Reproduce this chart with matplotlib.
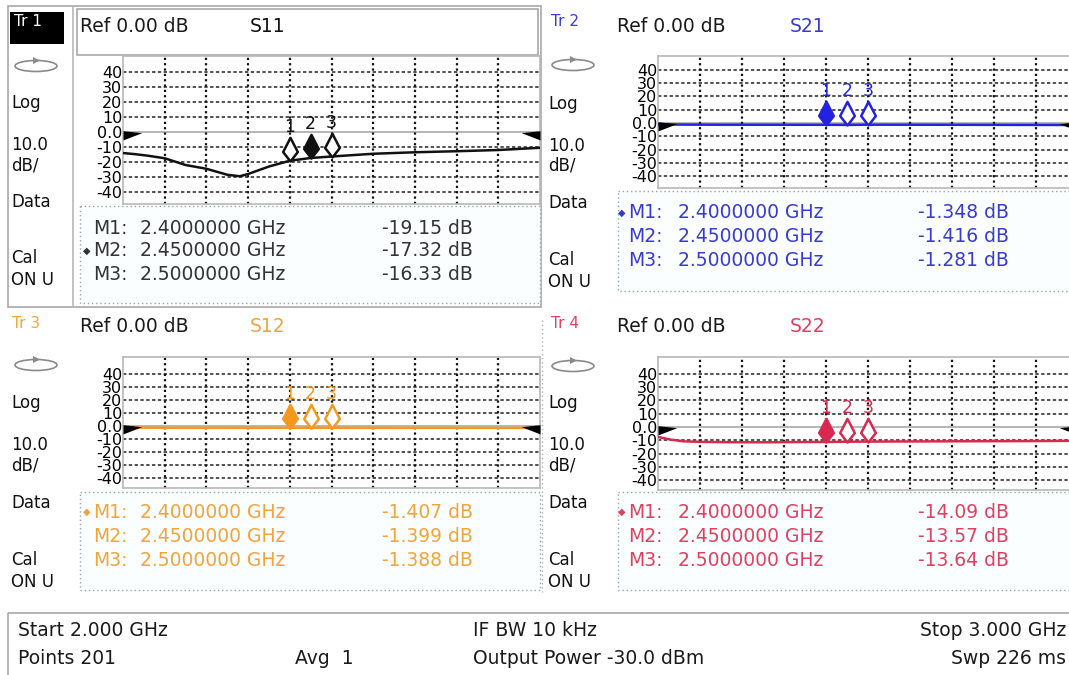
import matplotlib
matplotlib.use("Agg")
import matplotlib.pyplot as plt
from matplotlib.path import Path
from matplotlib.patches import Rectangle, Ellipse, Polygon

W, H = 1069, 675
plt.rcParams['font.family'] = ['DejaVu Sans']

# ---- data ----
trace_f = [2.00, 2.03, 2.06, 2.10, 2.15, 2.20, 2.25, 2.28, 2.30, 2.35,
           2.40, 2.45, 2.50, 2.60, 2.70, 2.80, 2.90, 3.00]
s11_db = [-14.0, -14.8, -15.8, -17.5, -22.0, -24.5, -28.5, -29.5, -28.0, -23.0,
          -19.15, -17.32, -16.33, -14.5, -13.5, -12.8, -12.0, -10.5]
s21_db = [-0.9, -1.1, -1.2, -1.25, -1.3, -1.3, -1.32, -1.33, -1.34, -1.35,
          -1.348, -1.416, -1.281, -1.3, -1.35, -1.4, -1.45, -1.5]
s12_db = [-1.0, -1.2, -1.3, -1.35, -1.38, -1.4, -1.4, -1.41, -1.41, -1.41,
          -1.407, -1.399, -1.388, -1.4, -1.42, -1.44, -1.46, -1.5]
s22_db = [-7.5, -9.5, -10.8, -11.2, -11.4, -11.5, -11.5, -11.5, -11.4, -11.3,
          -11.3, -11.1, -11.0, -10.9, -10.8, -10.7, -10.6, -10.4]

grid_f = [2.1, 2.2, 2.3, 2.4, 2.5, 2.6, 2.7, 2.8, 2.9]
db_ticks = [40, 30, 20, 10, 0, -10, -20, -30, -40]
db_labels = ['40', '30', '20', '10', '0.0', '-10', '-20', '-30', '-40']

marker_f = [2.40, 2.45, 2.50]
marker_names = ['M1:', 'M2:', 'M3:']
marker_freq_txt = ['2.4000000 GHz', '2.4500000 GHz', '2.5000000 GHz']
s11_read = ['-19.15 dB', '-17.32 dB', '-16.33 dB']
s21_read = ['-1.348 dB', '-1.416 dB', '-1.281 dB']
s12_read = ['-1.407 dB', '-1.399 dB', '-1.388 dB']
s22_read = ['-14.09 dB', '-13.57 dB', '-13.64 dB']

side_labels = ['Log', '10.0', 'dB/', 'Data', 'Cal', 'ON U']
footer_row1 = ['Start 2.000 GHz', 'IF BW 10 kHz', 'Stop 3.000 GHz']
footer_row2 = ['Points 201', 'Avg  1', 'Output Power -30.0 dBm', 'Swp 226 ms']

panels = [
    dict(tr='Tr 1', name='S11', db=s11_db, read=s11_read, active=1,
         line='#111111', txt='#111111', tab='#333333'),
    dict(tr='Tr 2', name='S21', db=s21_db, read=s21_read, active=0,
         line='#2222e0', txt='#3a3ad0', tab='#3a3ad0'),
    dict(tr='Tr 3', name='S12', db=s12_db, read=s12_read, active=0,
         line='#f39a1e', txt='#f2a43c', tab='#f2a43c'),
    dict(tr='Tr 4', name='S22', db=s22_db, read=s22_read, active=0,
         line='#d82a50', txt='#e0405f', tab='#e0405f'),
]

# ---- pixel layout of each panel ----
layouts = [
    dict(plot=(123, 56, 540, 204), ylim=(-48.0, 50.7), col=11, ring=(36, 66),
         side_y=[103, 145, 165, 202, 258, 280], tr=(14, 22), head_y=26,
         ref_x=80, name_x=250, table=(80, 206, 540, 303), rows=[228, 251, 275],
         mx=93, fx=140, vx=473),
    dict(plot=(658, 56, 1078, 188), ylim=(-48.9, 50.4), col=548, ring=(573, 65),
         side_y=[104, 146, 166, 203, 260, 282], tr=(551, 22), head_y=26,
         ref_x=617, name_x=790, table=(618, 191, 1080, 291), rows=[213, 237, 261],
         mx=628, fx=678, vx=1009),
    dict(plot=(123, 357, 540, 488), ylim=(-47.7, 53.1), col=11, ring=(36, 365),
         side_y=[403, 445, 465, 503, 560, 582], tr=(12, 324), head_y=327,
         ref_x=80, name_x=250, table=(80, 492, 540, 590), rows=[512, 536, 560],
         mx=93, fx=140, vx=473),
    dict(plot=(658, 357, 1078, 490), ylim=(-47.4, 52.6), col=548, ring=(573, 366),
         side_y=[403, 445, 465, 503, 560, 582], tr=(551, 324), head_y=327,
         ref_x=617, name_x=790, table=(618, 492, 1080, 590), rows=[512, 536, 560],
         mx=628, fx=678, vx=1009),
]

diamond = Path([(0, 0), (0.62, 0.8), (0, 2), (-0.62, 0.8), (0, 0)],
               [Path.MOVETO, Path.LINETO, Path.LINETO, Path.LINETO, Path.CLOSEPOLY])
flag_l = Path([(0, 1.3), (19, -0.7), (0, -8), (0, 1.3)],
              [Path.MOVETO, Path.LINETO, Path.LINETO, Path.CLOSEPOLY])
flag_r = Path([(0, 1.3), (-19, -0.7), (0, -8), (0, 1.3)],
              [Path.MOVETO, Path.LINETO, Path.LINETO, Path.CLOSEPOLY])


def px_rect(x0, y0, x1, y1):
    return [x0 / W, 1 - y1 / H, (x1 - x0) / W, (y1 - y0) / H]


fig = plt.figure(figsize=(W / 100, H / 100), dpi=100)
bg = fig.add_axes([0, 0, 1, 1])
bg.set_xlim(0, W)
bg.set_ylim(H, 0)
bg.axis('off')

# active trace frame (Tr 1)
bg.add_patch(Rectangle((8, 6), 533, 301, fill=False, ec='#a8a8a8', lw=1.2))
bg.plot([73, 73], [6, 307], color='#b8b8b8', lw=1.2)
bg.add_patch(Rectangle((77, 9), 461, 46, fill=False, ec='#a8a8a8', lw=1.2))
bg.add_patch(Rectangle((10, 12), 54, 32, fc='black', ec='none'))
bg.plot([542, 542], [320, 592], color='#b0b0b0', lw=1, ls=(0, (1, 2)))

for p, lay in zip(panels, layouts):
    # left column
    cx, cy = lay['ring']
    bg.add_patch(Ellipse((cx, cy), 42, 11, fill=False, ec='#8a8a8a', lw=1.2))
    bg.add_patch(Polygon([(cx - 3, cy - 9), (cx + 4, cy - 5.5), (cx - 3, cy - 2)],
                         closed=True, fc='#8a8a8a', ec='none'))
    for lab, y in zip(side_labels, lay['side_y']):
        bg.text(lay['col'], y, lab, fontsize=12, va='center', ha='left', color='#111')
    trc = 'white' if p['tr'] == 'Tr 1' else p['txt']
    bg.text(lay['tr'][0], lay['tr'][1], p['tr'], fontsize=11, va='center', color=trc)
    bg.text(lay['ref_x'], lay['head_y'], 'Ref 0.00 dB', fontsize=13.5, va='center', color='#1a1a1a')
    bg.text(lay['name_x'], lay['head_y'], p['name'], fontsize=13.5, va='center', color=p['txt'])

    # marker table
    x0, y0, x1, y1 = lay['table']
    bg.add_patch(Rectangle((x0, y0), x1 - x0, y1 - y0, fc='#fbfefe', ec='#8fa8b0',
                           lw=1, ls=(0, (1, 2))))
    for i, y in enumerate(lay['rows']):
        if i == p['active']:
            bg.text(lay['mx'] - 10, y, '\u25c6', fontsize=7, va='center', color=p['tab'])
        bg.text(lay['mx'], y, marker_names[i], fontsize=13.5, va='center', color=p['tab'])
        bg.text(lay['fx'], y, marker_freq_txt[i], fontsize=13.5, va='center', color=p['tab'])
        bg.text(lay['vx'], y, p['read'][i], fontsize=13.5, va='center', ha='right', color=p['tab'])

    # trace plot
    ax = fig.add_axes(px_rect(*lay['plot']))
    ax.set_xlim(2.0, 3.0)
    ax.set_ylim(*lay['ylim'])
    ax.set_xticks([])
    ax.set_yticks(db_ticks, db_labels)
    ax.tick_params(axis='y', length=0, pad=0.5, labelsize=11.5)
    for s in ax.spines.values():
        s.set_color('#b8b8b8')
        s.set_linewidth(1.2)
    for v in db_ticks:
        if v == 0:
            ax.axhline(0, color='#b0b0b0', lw=1.3, zorder=1)
        else:
            ax.axhline(v, color='#222', lw=1.1, ls=(0, (2.2, 1.6)), zorder=1)
    for g in grid_f:
        ax.axvline(g, color='#111', lw=1.6, ls=(0, (1, 1.4)), zorder=1)

    ax.plot(trace_f, p['db'], color=p['line'], lw=1.8, zorder=3)
    ax.plot([2.0], [0], marker=flag_l, ms=27, color='black', mew=0, clip_on=False, zorder=5)
    ax.plot([3.0], [0], marker=flag_r, ms=27, color='black', mew=0, clip_on=False, zorder=5)

    for i, mf in enumerate(marker_f):
        my = p['db'][trace_f.index(mf)]
        face = p['line'] if i == p['active'] else 'white'
        ax.plot([mf], [my], marker=diamond, ms=34, mfc=face, mec=p['line'],
                mew=1.8, zorder=4, clip_on=False)
        ax.annotate(str(i + 1), (mf, my), xytext=(0, 18), textcoords='offset points',
                    ha='center', va='bottom', fontsize=12.5, color=p['line'], zorder=5)

# footer
bg.add_patch(Rectangle((8, 613), 1070, 70, fill=False, ec='#a8a8a8', lw=1.2))
bg.text(18, 630, footer_row1[0], fontsize=13.5, va='center', color='#1a1a1a')
bg.text(473, 630, footer_row1[1], fontsize=13.5, va='center', color='#1a1a1a')
bg.text(1066, 630, footer_row1[2], fontsize=13.5, va='center', ha='right', color='#1a1a1a')
bg.text(18, 659, footer_row2[0], fontsize=13.5, va='center', color='#1a1a1a')
bg.text(295, 659, footer_row2[1], fontsize=13.5, va='center', color='#1a1a1a')
bg.text(473, 659, footer_row2[2], fontsize=13.5, va='center', color='#1a1a1a')
bg.text(1066, 659, footer_row2[3], fontsize=13.5, va='center', ha='right', color='#1a1a1a')

fig.savefig('out.png', dpi=100)
